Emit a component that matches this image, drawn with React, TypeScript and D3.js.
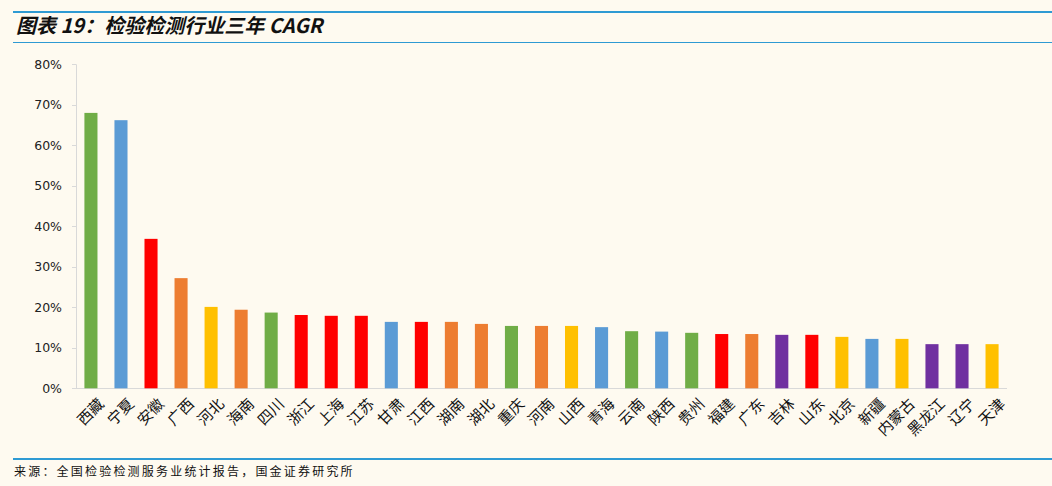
import React from "react";
import * as d3 from "d3";

const provinces = ["西藏","宁夏","安徽","广西","河北","海南","四川","浙江","上海","江苏","甘肃","江西","湖南","湖北","重庆","河南","山西","青海","云南","陕西","贵州","福建","广东","吉林","山东","北京","新疆","内蒙古","黑龙江","辽宁","天津"];
const cagr = [0.680,0.662,0.369,0.272,0.201,0.194,0.187,0.181,0.179,0.179,0.164,0.164,0.164,0.159,0.154,0.154,0.154,0.151,0.141,0.140,0.137,0.134,0.134,0.132,0.132,0.127,0.122,0.122,0.109,0.109,0.109];
const colorGroup = ["g","b","r","o","y","o","g","r","r","r","b","r","o","o","g","o","y","b","g","b","g","r","o","p","r","y","b","y","p","p","y"];
const yTicks = [0,0.1,0.2,0.3,0.4,0.5,0.6,0.7,0.8];
const palette: Record<string,string> = { g:"#70AD47", b:"#5B9BD5", r:"#FF0000", o:"#ED7D31", y:"#FFC000", p:"#7030A0" };

const title = "图表 19：检验检测行业三年 CAGR";
const source = "来源：全国检验检测服务业统计报告，国金证券研究所";

export default function App() {
  const W = 1052, H = 486;
  const x = d3.scaleBand<string>().domain(provinces).range([76, 1007]).paddingInner(0.565).paddingOuter(0.28);
  const y = d3.scaleLinear().domain([0, 0.8]).range([388.3, 64.3]);
  const fmt = d3.format(".0%");
  return (
    <svg width={W} height={H} style={{ position: "absolute", left: 0, top: 0 }}>
      <rect width={W} height={H} fill="#FEFAF0" />
      <line x1={13} x2={W} y1={12} y2={12} stroke="#2E9AD3" strokeWidth={2} />
      <text x={16} y={33} fontFamily="'Noto Sans CJK SC', sans-serif" fontSize={20} fontWeight="bold" fontStyle="italic" fill="#111">{title}</text>
      <line x1={13} x2={W} y1={42.5} y2={42.5} stroke="#2E9AD3" strokeWidth={1.2} />
      {/* y axis */}
      <line x1={76.5} x2={76.5} y1={y(0.8)} y2={y(0)} stroke="#D9D9D9" />
      <line x1={76} x2={1007} y1={388.5} y2={388.5} stroke="#D9D9D9" />
      {yTicks.map(t => (
        <g key={t}>
          <line x1={72} x2={76} y1={Math.round(y(t)) + 0.5} y2={Math.round(y(t)) + 0.5} stroke="#D9D9D9" />
          <text x={62} y={y(t)} dy="0.35em" textAnchor="end" fontFamily="'DejaVu Sans', sans-serif" fontSize={12.5} fill="#222">{fmt(t)}</text>
        </g>
      ))}
      {provinces.map((p, i) => (
        <rect key={p} x={x(p)} width={x.bandwidth()} y={y(cagr[i])} height={y(0) - y(cagr[i])} fill={palette[colorGroup[i]]} />
      ))}
      {provinces.map(p => {
        const cx = (x(p) as number) + x.bandwidth() / 2;
        return (
          <text key={p} transform={`translate(${cx + 6},${397}) rotate(-45)`} textAnchor="end" dy="0.75em" fontFamily="'Noto Sans CJK SC', sans-serif" fontSize={15} fill="#111">{p}</text>
        );
      })}
      <line x1={13} x2={W} y1={459} y2={459} stroke="#2E9AD3" strokeWidth={2.2} />
      <text x={14} y={476} fontFamily="'Noto Sans CJK SC', sans-serif" fontSize={12} letterSpacing={2.2} fill="#111">{source}</text>
    </svg>
  );
}
